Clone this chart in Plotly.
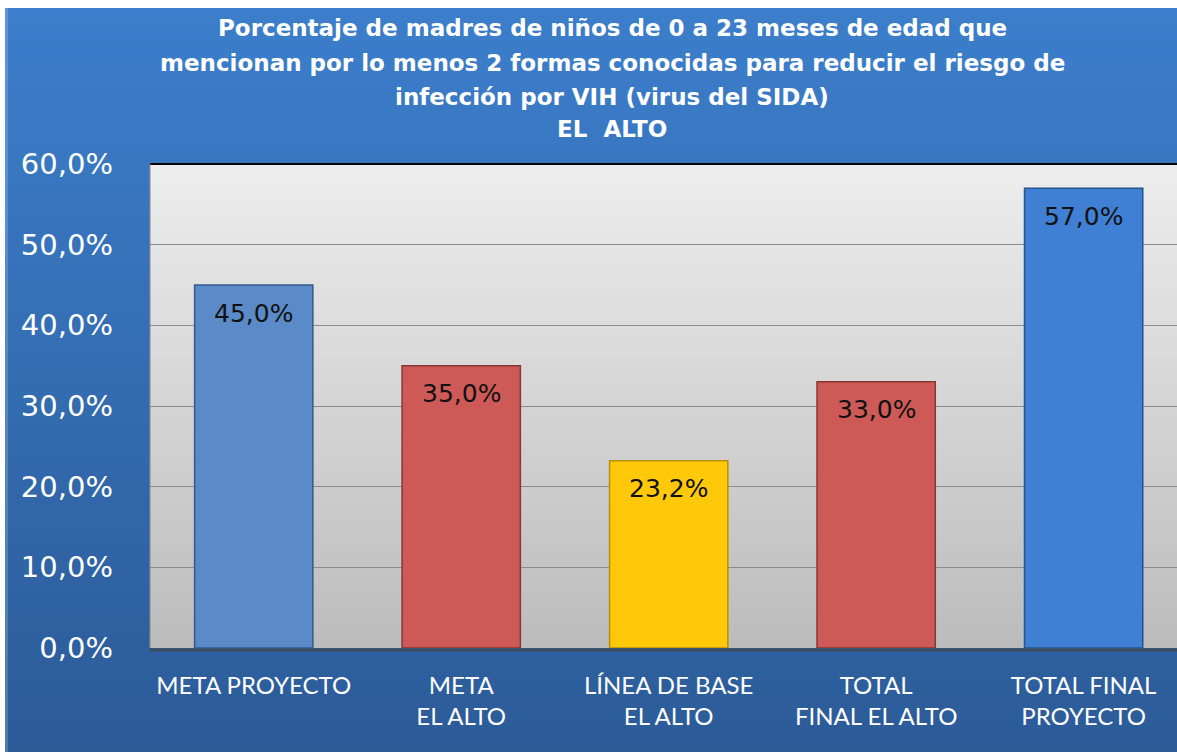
import plotly.graph_objects as go

# Data
categories = ["META PROYECTO", "META<br>EL ALTO", "LÍNEA DE BASE<br>EL ALTO",
              "TOTAL<br>FINAL EL ALTO", "TOTAL FINAL<br>PROYECTO"]
values = [45.0, 35.0, 23.2, 33.0, 57.0]
bar_colors = ["#5a8ac8", "#cd5a57", "#ffc90a", "#cd5a57", "#3f80d4"]
edge_colors = ["#34598a", "#8a3533", "#b98f00", "#8a3533", "#25558f"]
y_ticks = [0, 10, 20, 30, 40, 50, 60]
title_lines = [
    "Porcentaje de madres de niños de 0 a 23 meses de edad que",
    "mencionan por lo menos 2 formas conocidas para reducir el riesgo de",
    "infección por VIH (virus del SIDA)",
    "EL\u00a0 ALTO",
]

W, H = 1177, 752
ML, MR, MT, MB = 150, 0, 164, 104
PW, PH = W - ML - MR, H - MT - MB


def px_x(px):
    return (px - ML) / PW


def px_y(py):
    return (H - MB - py) / PH


def lerp_color(c1, c2, t):
    a = [int(c1[i:i + 2], 16) for i in (1, 3, 5)]
    b = [int(c2[i:i + 2], 16) for i in (1, 3, 5)]
    return "rgb(%d,%d,%d)" % tuple(round(a[k] + (b[k] - a[k]) * t) for k in range(3))


def fmt(v):
    return f"{v:.1f}".replace(".", ",") + "%"


shapes = []

# Blue background panel: stacked bands, each reaching the bottom, so no seams show
n = 90
top, bot = 8, H
for i in range(n):
    y0 = top + (bot - top) * i / n
    shapes.append(dict(type="rect", xref="paper", yref="paper",
                       x0=px_x(5), x1=px_x(W), y0=px_y(bot), y1=px_y(y0),
                       fillcolor=lerp_color("#3c7ecb", "#2c5b98", i / (n - 1)),
                       line=dict(width=0), layer="below"))
# Slightly lighter left edge strip
shapes.append(dict(type="rect", xref="paper", yref="paper",
                   x0=px_x(5), x1=px_x(8), y0=px_y(H), y1=px_y(8),
                   fillcolor="rgba(255,255,255,0.18)", line=dict(width=0), layer="below"))

# Plot area gradient (light grey to darker grey), same stacking approach
n = 120
for i in range(n):
    y0 = i / n
    shapes.append(dict(type="rect", xref="paper", yref="paper",
                       x0=0, x1=1, y0=0, y1=1 - y0,
                       fillcolor=lerp_color("#ededed", "#bcbcbc", i / (n - 1)),
                       line=dict(width=0), layer="below"))

# Plot area frame
shapes.append(dict(type="line", xref="paper", yref="paper", x0=0, x1=1, y0=1, y1=1,
                   line=dict(color="#000000", width=2)))
shapes.append(dict(type="line", xref="paper", yref="paper", x0=0, x1=0, y0=0, y1=1,
                   line=dict(color="#8c8c8c", width=1)))
shapes.append(dict(type="line", xref="paper", yref="paper", x0=0, x1=1, y0=px_y(650), y1=px_y(650),
                   line=dict(color="#3d4a5c", width=3)))

fig = go.Figure()
fig.add_trace(go.Bar(
    x=categories, y=values, width=0.57,
    marker=dict(color=bar_colors, line=dict(color=edge_colors, width=1.5)),
    hoverinfo="x+y",
))

annotations = []
for c, v in zip(categories, values):
    annotations.append(dict(x=c, y=v, xref="x", yref="y", text=fmt(v),
                            showarrow=False, yanchor="middle", yshift=-28,
                            font=dict(family="DejaVu Sans", size=25, color="#111111")))

title_y = [28, 63, 97, 129]
for line, yy in zip(title_lines, title_y):
    annotations.append(dict(x=px_x(612), y=px_y(yy), xref="paper", yref="paper",
                            text="<b>" + line + "</b>", showarrow=False,
                            xanchor="center", yanchor="middle",
                            font=dict(family="DejaVu Sans", size=23, color="#ffffff")))

fig.update_layout(
    width=W, height=H,
    margin=dict(l=ML, r=MR, t=MT, b=MB, pad=0),
    paper_bgcolor="#ffffff",
    plot_bgcolor="rgba(0,0,0,0)",
    separators=",.",
    showlegend=False,
    shapes=shapes,
    annotations=annotations,
    xaxis=dict(range=[-0.5, 4.45], showgrid=False, showline=False, zeroline=False, ticks="",
               tickfont=dict(family="Lato", size=24, color="#ffffff"),
               ticklabelstandoff=21),
    yaxis=dict(range=[0, 60], tickvals=y_ticks, ticktext=[fmt(t) for t in y_ticks],
               showgrid=True, gridcolor="#8c8c8c", gridwidth=1,
               zeroline=False, showline=False, ticks="",
               tickfont=dict(family="DejaVu Sans", size=29, color="#ffffff"),
               ticklabelstandoff=36),
)

fig.write_html("out.html")
